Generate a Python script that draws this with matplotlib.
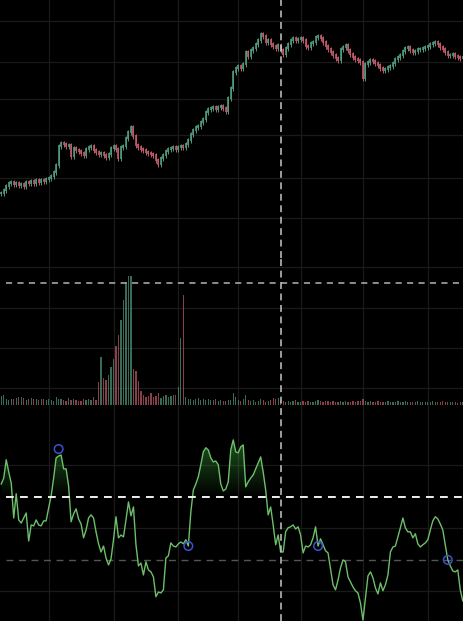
import numpy as np
import matplotlib
matplotlib.use("Agg")
import matplotlib.pyplot as plt
from matplotlib.path import Path
from matplotlib.patches import PathPatch

# closing prices, one per bar
close = [67, 70, 74, 77, 78, 76, 77, 75, 76, 74, 78, 77, 79, 77, 80, 78,
         80, 79, 81, 82, 84, 88, 95, 114, 117, 116, 114, 115, 104, 112, 110, 109,
         107, 105, 111, 113, 114, 110, 108, 106, 107, 105, 103, 106, 112, 114, 111, 102,
         113, 114, 122, 128, 133, 124, 115, 113, 111, 110, 108, 107, 106, 105, 100, 96,
         102, 105, 109, 111, 112, 113, 111, 113, 114, 113, 116, 120, 126, 130, 133, 134,
         138, 141, 148, 151, 152, 153, 151, 153, 154, 152, 149, 162, 172, 188, 192, 194,
         192, 196, 208, 204, 210, 212, 216, 220, 226, 224, 218, 220, 216, 214, 212, 215,
         210, 206, 212, 216, 220, 222, 220, 221, 222, 220, 214, 213, 217, 218, 223, 224,
         222, 218, 214, 211, 208, 205, 202, 200, 211, 213, 215, 210, 206, 203, 201, 200,
         198, 182, 196, 198, 200, 199, 197, 195, 192, 190, 191, 193, 194, 197, 201, 203,
         205, 209, 212, 213, 210, 208, 209, 211, 211, 212, 213, 214, 216, 217, 218, 216,
         213, 211, 208, 205, 205, 206, 204, 203, 202, 203]

volume = [9, 10, 6, 5, 6, 6, 7, 8, 8, 7, 5, 6, 7, 6, 6, 5, 6, 6, 5, 6,
          5, 4, 8, 6, 6, 5, 4, 7, 5, 6, 5, 4, 4, 6, 5, 6, 5, 8, 5,
          23, 48, 27, 25, 30, 38, 46, 59, 70, 85, 105, 123, 129, 129, 36, 34, 24, 14, 10,
          8, 9, 12, 8, 9, 12, 7, 9, 10, 8, 9, 10, 10,
          18, 67, 110,
          8, 6, 6, 5, 6, 7, 5, 6, 5, 6, 5, 5, 6, 4, 5, 4, 4, 5,
          5, 12, 8, 5, 4, 6, 10, 5, 4, 5, 3, 4, 6, 5, 3, 4, 5, 7, 6, 7,
          5, 4, 3, 4, 3, 4, 5, 3, 3, 4, 3, 4, 3, 3, 4, 5, 4, 3, 4, 4,
          3, 4, 3, 3, 4, 3, 4, 3, 3, 4, 3, 4, 4, 6, 4, 3, 4, 3, 3, 4,
          3, 3, 3, 4, 3, 3, 3, 4, 3, 3, 4, 3, 3, 3, 3, 4, 3, 3, 3, 3,
          3, 4, 3, 3, 3, 4, 3, 3, 3, 3, 3, 2, 3, 3]

osc = [54.1, 56.0, 61.8, 57.9, 54.4, 43.3, 51.0, 42.7, 41.7, 43.3, 44.9, 36.0,
       41.1, 40.8, 42.7, 41.1, 40.8, 42.4, 42.4, 46.5, 50.3, 56.0, 62.4, 63.0,
       63.3, 58.9, 58.9, 53.5, 42.1, 44.6, 46.2, 43.0, 41.4, 37.0, 39.5, 43.3,
       44.3, 43.3, 38.9, 35.1, 32.5, 34.4, 30.6, 28.4, 30.3, 36.4, 43.7, 37.0,
       37.9, 37.3, 42.7, 48.4, 44.0, 46.8, 34.8, 28.1, 29.0, 25.2, 29.4, 26.8,
       26.2, 24.6, 18.3, 19.8, 19.5, 20.5, 30.6, 31.3, 35.4, 34.4, 34.1, 35.1,
       35.7, 35.1, 36.4, 34.4, 45.2, 52.2, 54.1, 56.4, 60.2, 64.3, 65.6, 64.9,
       62.4, 61.1, 61.4, 60.2, 54.1, 51.9, 52.5, 54.8, 64.9, 68.1, 64.3, 64.0,
       65.9, 66.5, 53.2, 54.8, 56.0, 57.0, 58.9, 60.8, 62.7, 57.9, 52.2, 44.3,
       46.8, 41.1, 34.8, 37.9, 32.5, 32.5, 38.9, 40.2, 40.5, 41.1, 39.8, 40.5,
       37.9, 32.2, 34.4, 34.1, 34.8, 37.0, 40.5, 34.4, 36.7, 34.8, 32.9, 32.2,
       27.1, 22.1, 20.5, 23.6, 27.5, 30.0, 29.4, 24.6, 23.0, 21.4, 20.2, 19.5,
       16.3, 10.9, 17.9, 24.9, 26.2, 24.3, 21.1, 19.2, 22.7, 20.2, 22.1, 25.2,
       32.5, 34.1, 34.4, 37.3, 40.2, 43.3, 40.2, 38.9, 38.9, 37.0, 38.3, 35.1,
       34.1, 34.8, 35.4, 36.4, 39.5, 42.4, 43.7, 43.0, 41.4, 39.5, 34.8, 30.0,
       28.1, 26.5, 26.2, 26.8, 20.5, 17.0]

signal_idx = [23, 75, 127, 179]
signal_val = [65.2, 34.4, 34.4, 30.0]

month_ticks = [19, 45, 71, 95, 120.1, 145, 171]
price_grid = [239.3, 198.3, 160.7, 125.3, 81.7, 42]
vol_grid = [17, 57, 97, 138]
osc_grid = [20, 40, 60]
upper_level = 50
lower_level = 30
cross_bar = 112
vol_marker = 122

close = np.array(close, dtype=float)
volume = np.array(volume, dtype=float)
osc = np.array(osc)
n = len(close)
x = np.arange(n)
opn = np.r_[close[0], close[:-1]]
up = close >= opn

UP = "#4f9a7c"
DOWN = "#c25b6b"
BG = "#000000"
GRID = "#1a1a1a"
cols = np.where(up, UP, DOWN)

W, H = 464, 621
fig = plt.figure(figsize=(W / 100, H / 100), dpi=100, facecolor=BG)

def panel(top, bottom):
    ax = fig.add_axes([0, 1 - bottom / H, 1, (bottom - top) / H])
    ax.set_facecolor(BG)
    for s in ax.spines.values():
        s.set_visible(False)
    ax.set_xlim(-0.5, n - 0.5)
    ax.set_xticks(month_ticks)
    ax.tick_params(left=False, bottom=False, labelleft=False, labelbottom=False)
    ax.grid(True, color=GRID, lw=0.9)
    ax.set_axisbelow(True)
    return ax

ax1 = panel(0, 258)
ax2 = panel(258, 415)
ax3 = panel(415, H)

# candles
lo = np.minimum(opn, close)
hi = np.maximum(opn, close)
ax1.vlines(x, lo - 2.5, hi + 2.5, colors=cols, lw=0.7)
ax1.vlines(x, lo - 0.6, hi + 0.6, colors=cols, lw=1.2)
ax1.set_ylim(2, 260)
ax1.set_yticks(price_grid)

# volume
ax2.bar(x, volume, width=0.5, color=cols, alpha=0.7)
ax2.set_ylim(-10, 147)
ax2.set_yticks(vol_grid)
ax2.axhline(vol_marker, xmin=0.012, color="#b4b4b4", lw=1.1, ls=(0, (4, 3.5)))

# oscillator
ax3.set_ylim(10.6, 76.0)
ax3.set_yticks(osc_grid)
poly = ax3.fill_between(x, osc, upper_level, where=osc >= upper_level,
                        interpolate=True, color="none")
path = Path.make_compound_path(*poly.get_paths())
patch = PathPatch(path, transform=ax3.transData, facecolor="none", edgecolor="none")
ax3.add_patch(patch)
top = osc.max()
grad = np.zeros((256, 1, 4))
grad[:, 0, 0] = 0.22
grad[:, 0, 1] = 0.6
grad[:, 0, 2] = 0.22
grad[:, 0, 3] = np.linspace(0.0, 0.55, 256)
im = ax3.imshow(grad, extent=[-0.5, n - 0.5, upper_level, top], origin="lower",
                aspect="auto", zorder=2)
im.set_clip_path(patch)
ax3.plot(x, osc, color="#6dbf6a", lw=1.0, zorder=3)
ax3.axhline(upper_level, xmin=0.012, color="#f0f0f0", lw=1.4, ls=(0, (4, 3.2)), zorder=4)
ax3.axhline(lower_level, xmin=0.012, color="#555555", lw=1.0, ls=(0, (5, 4)), zorder=1)
ax3.scatter(signal_idx, signal_val, s=38, facecolors="none", edgecolors="#3d4fd6",
            lw=1.1, zorder=5)

for ax in (ax1, ax2, ax3):
    ax.axvline(cross_bar, color="#c8c8c8", lw=1.1, ls=(0, (4.5, 3)), zorder=6)

fig.savefig("out.png", dpi=100, facecolor=BG)
